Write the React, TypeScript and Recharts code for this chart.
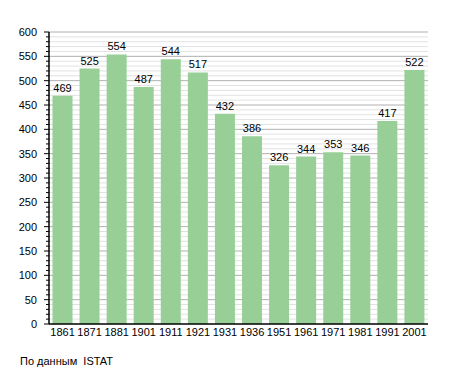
import React from "react";
import { BarChart, Bar, XAxis, YAxis, CartesianGrid, LabelList } from "recharts";

const years = ["1861", "1871", "1881", "1901", "1911", "1921", "1931", "1936", "1951", "1961", "1971", "1981", "1991", "2001"];
const population = [469, 525, 554, 487, 544, 517, 432, 386, 326, 344, 353, 346, 417, 522];
const majorTicks = [0, 50, 100, 150, 200, 250, 300, 350, 400, 450, 500, 550, 600];
const minorTicks = Array.from({ length: 61 }, (_, i) => i * 10);

const data = years.map((y, i) => ({ year: y, value: population[i] }));

const FONT = "'Liberation Sans', Arial, sans-serif";

const YTick = (props: any) => {
  const { x, y, payload } = props;
  const v = payload.value;
  const major = v % 50 === 0;
  return (
    <g>
      <line x1={x - (major ? 5 : 3)} x2={x} y1={y} y2={y} stroke="#000" strokeWidth={1} />
      {major && (
        <text x={x - 12} y={y} dy="0.36em" textAnchor="end" fontSize={11} fontFamily={FONT} fill="#000">
          {v}
        </text>
      )}
    </g>
  );
};

export default function App() {
  return (
    <div style={{ position: "absolute", left: 0, top: 0, width: 455, height: 373, background: "#fff" }}>
      <BarChart width={455} height={373} data={data} margin={{ top: 32, right: 27, bottom: 35, left: 0 }} barCategoryGap={3.5}>
        <CartesianGrid
          vertical={false}
          horizontalValues={minorTicks.filter((t) => t % 50 !== 0)}
          stroke="#e2e2e2"
          strokeDasharray=""
        />
        <CartesianGrid
          vertical={false}
          horizontalValues={majorTicks.filter((t) => t !== 0)}
          stroke="#b0b0b0"
          strokeDasharray=""
        />
        <XAxis
          dataKey="year"
          axisLine={{ stroke: "#000", strokeWidth: 1.5 }}
          tickLine={false}
          tickSize={0}
          tickMargin={4}
          height={14}
          interval={0}
          tick={{ fontSize: 11, fontFamily: FONT, fill: "#000" }}
        />
        <YAxis
          width={49}
          domain={[0, 600]}
          ticks={minorTicks}
          interval={0}
          axisLine={{ stroke: "#000", strokeWidth: 1.5 }}
          tickLine={false}
          tickSize={0}
          tickMargin={0}
          tick={<YTick />}
        />
        <Bar dataKey="value" fill="#97cf97" isAnimationActive={false}>
          <LabelList dataKey="value" position="top" offset={4} fontSize={11} fontFamily={FONT} fill="#000" />
        </Bar>
      </BarChart>
      <div style={{ position: "absolute", left: 20, top: 355, fontSize: 11, lineHeight: "13px", fontFamily: FONT, color: "#000", whiteSpace: "nowrap" }}>
        По данным&nbsp; ISTAT
      </div>
    </div>
  );
}
